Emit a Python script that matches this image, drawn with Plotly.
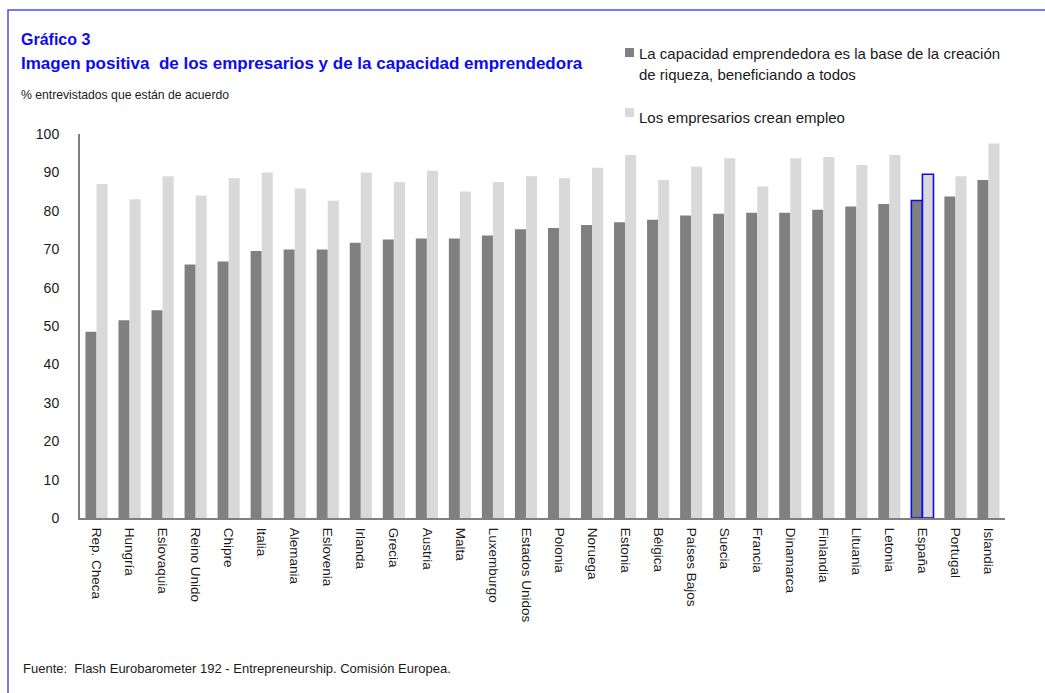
import plotly.graph_objects as go

paises = ['Rep. Checa', 'Hungría', 'Eslovaquia', 'Reino Unido', 'Chipre', 'Italia', 'Alemania',
          'Eslovenia', 'Irlanda', 'Grecia', 'Austria', 'Malta', 'Luxemburgo', 'Estados Unidos',
          'Polonia', 'Noruega', 'Estonia', 'Bélgica', 'Países Bajos', 'Suecia', 'Francia',
          'Dinamarca', 'Finlandia', 'Lituania', 'Letonia', 'España', 'Portugal', 'Islandia']

capacidad = [48.5, 51.5, 54.1, 66.0, 66.8, 69.5, 69.9, 69.9, 71.7, 72.5, 72.8, 72.8, 73.6, 75.2,
             75.5, 76.3, 77.0, 77.7, 78.8, 79.2, 79.5, 79.5, 80.3, 81.1, 81.8, 82.7, 83.7, 88.0]

empleo = [87.0, 83.0, 89.0, 84.0, 88.5, 90.0, 85.8, 82.6, 90.0, 87.5, 90.4, 85.0, 87.5, 89.0,
          88.5, 91.2, 94.5, 88.0, 91.5, 93.7, 86.3, 93.7, 94.0, 91.9, 94.5, 89.5, 89.0, 97.5]

nombre_capacidad = ['La capacidad emprendedora es la base de la creación',
                    'de riqueza, beneficiando a todos']
nombre_empleo = 'Los empresarios crean empleo'
destacado = 'España'

FONT = 'Liberation Sans, Arial, sans-serif'
BLUE = '#0c0cee'
FRAME = '#4d4df2'
DARK = '#808080'
LIGHT = '#d9d9d9'

# plot area in pixels
L, R, T, B = 80, 40, 134, 175
W, H = 1045, 693
pw, ph = W - L - R, H - T - B


def px_x(p):
    return (p - L) / pw


def px_y(p):
    return (H - B - p) / ph


def label(text, x, y, size, color='#1a1a1a'):
    fig.add_annotation(text=text, xref='paper', yref='paper', x=px_x(x), y=px_y(y),
                       xanchor='left', yanchor='middle', showarrow=False, borderpad=0,
                       font=dict(size=size, color=color, family=FONT))


def square(x, y, color):
    fig.add_shape(type='rect', xref='paper', yref='paper',
                  x0=px_x(x), x1=px_x(x + 9), y0=px_y(y + 9), y1=px_y(y),
                  line=dict(width=0), fillcolor=color)


line_w = [1.6 if p == destacado else 0 for p in paises]

fig = go.Figure()
fig.add_trace(go.Bar(x=paises, y=capacidad, name=' '.join(nombre_capacidad),
                     marker=dict(color=DARK, line=dict(color=BLUE, width=line_w))))
fig.add_trace(go.Bar(x=paises, y=empleo, name=nombre_empleo,
                     marker=dict(color=LIGHT, line=dict(color=BLUE, width=line_w))))

fig.update_layout(
    width=W, height=H,
    margin=dict(l=L, r=R, t=T, b=B, autoexpand=False),
    paper_bgcolor='white', plot_bgcolor='white',
    font=dict(family=FONT, color='#1a1a1a', size=14),
    barmode='group', bargap=0.33, bargroupgap=0,
    showlegend=False,
)

fig.update_xaxes(showline=True, linecolor=DARK, linewidth=2, showgrid=False, automargin=False,
                 ticks='', tickangle=90, ticklabelstandoff=5, tickfont=dict(size=13.5, family=FONT))
fig.update_yaxes(range=[0, 100], dtick=10, showline=True, linecolor=DARK, linewidth=2,
                 showgrid=False, zeroline=False, ticks='', ticklabelstandoff=16, automargin=False,
                 tickfont=dict(size=14, family=FONT))

# blue frame
fig.add_shape(type='rect', xref='paper', yref='paper',
              x0=px_x(8), x1=px_x(1052), y0=px_y(700), y1=px_y(10),
              line=dict(color=FRAME, width=1.5), fillcolor='rgba(0,0,0,0)', layer='below')

# legend drawn by hand
square(625, 48, DARK)
label(nombre_capacidad[0], 638, 53, 15)
label(nombre_capacidad[1], 638, 74, 15)
square(625, 108, LIGHT)
label(nombre_empleo, 638, 117, 15)

label('<b>Gráfico 3</b>', 20, 40, 16, BLUE)
label('<b>Imagen positiva  de los empresarios y de la capacidad emprendedora</b>', 20, 63, 17, BLUE)
label('% entrevistados que están de acuerdo', 20, 95, 12.2)
label('Fuente:  Flash Eurobarometer 192 - Entrepreneurship. Comisión Europea.', 22, 668, 13)

fig.write_html('out.html', config={'displayModeBar': False},
               post_script="document.body.style.margin='0';document.body.style.overflow='hidden';")
